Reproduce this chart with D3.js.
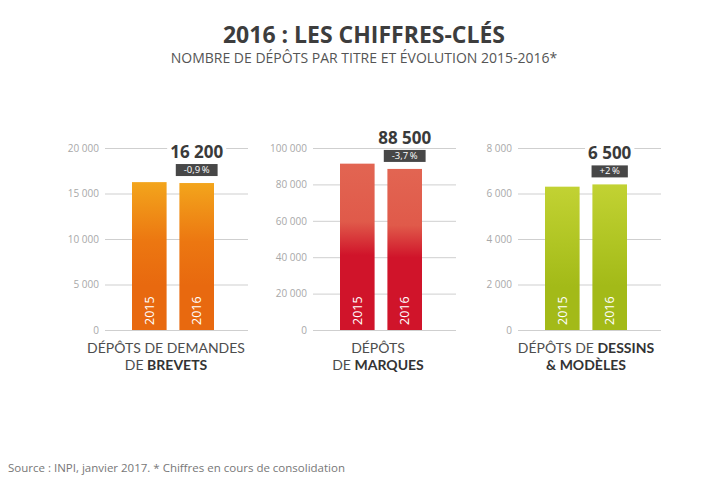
<!DOCTYPE html>
<html>
<head>
<meta charset="utf-8">
<script src="https://cdn.jsdelivr.net/npm/d3@7"></script>
<style>
  body { margin: 0; background: #fff; }
  svg { font-family: "Open Sans", sans-serif; }
</style>
</head>
<body>
<svg id="chart" width="727" height="483"></svg>
<script>
'use strict';

// data
var years = ['2015', '2016'];
var brevets = [16250, 16150];
var marques = [91400, 88500];
var dessins = [6300, 6400];
var yMax = [20000, 100000, 8000];
var tickStep = [5000, 20000, 2000];
var headline = ['16 200', '88 500', '6 500'];
var evolution = ['-0,9\u2009%', '-3,7\u2009%', '+2\u2009%'];
// category labels: [text, bold?] pieces, one list per line
var catLine1 = [[['DÉPÔTS DE DEMANDES', 0]], [['DÉPÔTS', 0]], [['DÉPÔTS DE ', 0], ['DESSINS', 1]]];
var catLine2 = [[['DE ', 0], ['BREVETS', 1]], [['DE ', 0], ['MARQUES', 1]], [['& MODÈLES', 1]]];

(function(){
var series = [brevets, marques, dessins];
var colors = [
  ['#f3a51c', '#ec7711', '#e8690f'],
  ['#e26552', '#e05a4a', '#d0142a'],
  ['#c2d233', '#b0c523', '#a3ba18']
];

var svg = d3.select('#chart');
var fr = d3.formatLocale({decimal: ',', thousands: '\u00a0', grouping: [3], currency: ['', '€']});
var fmt = fr.format(',');

svg.append('text')
  .attr('x', 364).attr('y', 43)
  .attr('text-anchor', 'middle')
  .style('font-size', '23px').style('font-weight', 700).style('fill', '#3d3d3d')
  .text('2016 : LES CHIFFRES-CLÉS');

svg.append('text')
  .attr('x', 364).attr('y', 63)
  .attr('text-anchor', 'middle')
  .style('font-size', '14px').style('fill', '#555')
  .text('NOMBRE DE DÉPÔTS PAR TITRE ET ÉVOLUTION 2015-2016*');

svg.append('text')
  .attr('x', 8).attr('y', 472)
  .style('font-size', '11.5px').style('fill', '#777')
  .text('Source : INPI, janvier 2017. * Chiffres en cours de consolidation');

var defs = svg.append('defs');
var panelX = [105, 313, 518];
var labelShift = [-7, -3, 0];
var gridW = 143;
var yTop = 148, yBottom = 330;

series.forEach(function(vals, i){
  var gid = 'grad' + i;
  var grad = defs.append('linearGradient').attr('id', gid)
    .attr('x1', 0).attr('y1', 0).attr('x2', 0).attr('y2', 1);
  grad.append('stop').attr('offset', '0%').attr('stop-color', colors[i][0]);
  grad.append('stop').attr('offset', i === 1 ? '35%' : '40%').attr('stop-color', colors[i][1]);
  grad.append('stop').attr('offset', i === 1 ? '55%' : '70%').attr('stop-color', colors[i][2]);
  grad.append('stop').attr('offset', '100%').attr('stop-color', colors[i][2]);

  var g = svg.append('g').attr('transform', 'translate(' + panelX[i] + ',0)');

  var y = d3.scaleLinear().domain([0, yMax[i]]).range([yBottom, yTop]);
  var x = d3.scaleBand().domain(years).range([27, 109]).paddingInner(0.27).paddingOuter(0);

  var axis = g.append('g').attr('class', 'axis')
    .call(d3.axisLeft(y)
      .tickValues(d3.range(0, yMax[i] + 1, tickStep[i]))
      .tickSize(-gridW).tickPadding(6).tickFormat(fmt));
  axis.select('.domain').remove();
  axis.selectAll('line').attr('stroke', '#cfcfcf').attr('stroke-width', 1);
  axis.selectAll('text').style('font-size', '10px').style('fill', '#a8a8a8')
    .style('font-family', '"Open Sans", sans-serif');

  g.selectAll('rect.bar')
    .data(vals).enter().append('rect')
    .attr('class', 'bar')
    .attr('x', function(d, j){ return x(years[j]); })
    .attr('width', x.bandwidth())
    .attr('y', function(d){ return y(d); })
    .attr('height', function(d){ return yBottom - y(d); })
    .attr('fill', 'url(#' + gid + ')');

  g.selectAll('text.year')
    .data(years).enter().append('text')
    .attr('class', 'year')
    .attr('transform', function(d){
      return 'translate(' + (x(d) + x.bandwidth() / 2 + 4.5) + ',' + (yBottom - 5) + ') rotate(-90)';
    })
    .style('font-size', '12.5px').style('fill', '#fff')
    .text(function(d){ return d; });

  // headline value + evolution badge above the 2016 bar
  var cx = x('2016') + x.bandwidth() / 2;
  var boxBottom = y(vals[1]) - 7;
  var boxH = 12;
  var badge = g.append('g');
  var bt = badge.append('text')
    .attr('x', cx).attr('y', boxBottom - 3)
    .attr('text-anchor', 'middle')
    .style('font-size', '9.5px').style('fill', '#fff')
    .text(evolution[i]);
  var bw = bt.node().getComputedTextLength() + 16;
  badge.insert('rect', 'text')
    .attr('x', cx - bw / 2).attr('y', boxBottom - boxH)
    .attr('width', bw).attr('height', boxH)
    .attr('fill', '#474747');

  var hg = g.append('g');
  var ht = hg.append('text')
    .attr('x', cx).attr('y', boxBottom - boxH - 6)
    .attr('text-anchor', 'middle')
    .style('font-size', '17px').style('font-weight', 700).style('fill', '#3a3a3a')
    .text(headline[i]);
  var hw = ht.node().getComputedTextLength() + 6;
  hg.insert('rect', 'text')
    .attr('x', cx - hw / 2).attr('y', boxBottom - boxH - 20)
    .attr('width', hw).attr('height', 16)
    .attr('fill', '#fff');

  // category label, two lines
  var lc = x('2015') + (x('2016') + x.bandwidth() - x('2015')) / 2 + labelShift[i];
  [catLine1[i], catLine2[i]].forEach(function(line, k){
    var lab = g.append('text').attr('x', lc).attr('y', 353 + k * 17)
      .attr('text-anchor', 'middle')
      .style('font-family', 'Lato, sans-serif')
      .style('font-size', '14px').style('fill', '#4d4d4d');
    line.forEach(function(piece){
      lab.append('tspan')
        .style('font-weight', piece[1] ? 700 : 400)
        .style('fill', piece[1] ? '#333' : '#4d4d4d')
        .text(piece[0]);
    });
  });
});
})();
</script>
</body>
</html>
